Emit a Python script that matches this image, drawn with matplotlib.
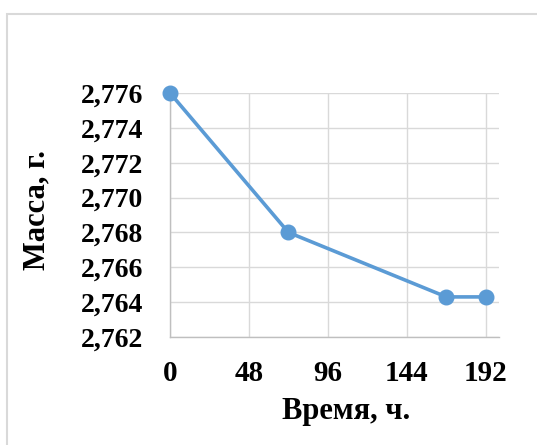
import matplotlib.pyplot as plt
from matplotlib.patches import Rectangle
from matplotlib.ticker import FuncFormatter

time_h = [0, 72, 168, 192]
mass_g = [2.776, 2.768, 2.7643, 2.7643]
x_ticks = [0, 48, 96, 144, 192]
y_ticks = [2.762, 2.764, 2.766, 2.768, 2.770, 2.772, 2.774, 2.776]

plt.rcParams['font.family'] = ['Liberation Serif', 'DejaVu Serif']
plt.rcParams['font.weight'] = 'bold'

W, H = 537, 445
fig = plt.figure(figsize=(W / 100, H / 100), dpi=100)

# chart border (Excel-like), runs off the right and bottom edges
fig.patches.append(Rectangle((7.5 / W, -0.1), 1.2, 1 - 14 / H + 0.1,
                             transform=fig.transFigure, fill=False,
                             edgecolor='#D9D9D9', linewidth=1.5))

# plot area: x 170..499 px, y 93..337 px
ax = fig.add_axes([170 / W, 1 - 337 / H, 329 / W, 244 / H])
ax.plot(time_h, mass_g, color='#5B9BD5', linewidth=2.6, marker='o',
        markersize=10.5, clip_on=False, zorder=3)

ax.set_xlim(0, 200)
ax.set_ylim(2.762, 2.776)
ax.set_xticks(x_ticks)
ax.set_yticks(y_ticks)
ax.yaxis.set_major_formatter(FuncFormatter(lambda v, p: f'{v:.3f}'.replace('.', ',')))
ax.grid(True, color='#D9D9D9', linewidth=1.0)
ax.set_axisbelow(True)

for s in ['top', 'right']:
    ax.spines[s].set_visible(False)
for s in ['left', 'bottom']:
    ax.spines[s].set_color('#BFBFBF')
    ax.spines[s].set_linewidth(1.0)

ax.tick_params(length=0)
ax.tick_params(axis='x', labelsize=21, pad=16.5)
ax.tick_params(axis='y', labelsize=20, pad=19)
for lbl in ax.get_xticklabels() + ax.get_yticklabels():
    lbl.set_fontweight('bold')

ax.set_xlabel('Время, ч.', fontsize=22, fontweight='bold')
ax.set_ylabel('Масса, г.', fontsize=22, fontweight='bold')
ax.xaxis.set_label_coords(0.535, -0.245)
ax.yaxis.set_label_coords(-0.36, 0.52)

fig.savefig('out.png', dpi=100)
